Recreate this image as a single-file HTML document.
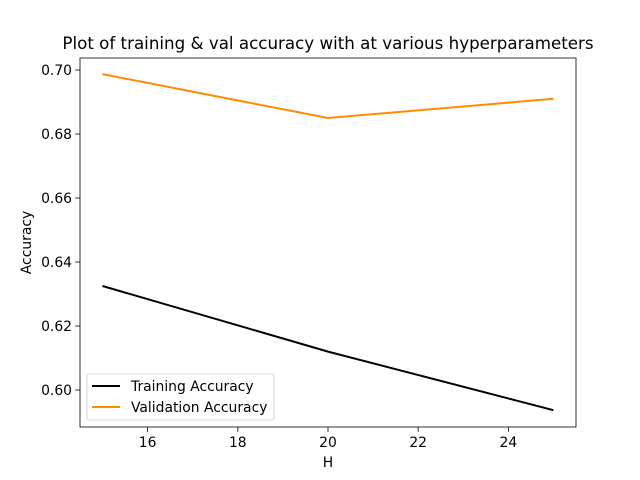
<!DOCTYPE html>
<html><head><meta charset="utf-8"><style>body{margin:0;background:#fff}svg{display:block}text{font-family:"DejaVu Sans","Liberation Sans",sans-serif;fill:#000}</style></head>
<body>
<svg id="chart" width="640" height="480">
<rect width="640" height="480" fill="#fff"/>
<text x="328" y="49" font-size="16.7" text-anchor="middle">Plot of training &amp; val accuracy with at various hyperparameters</text>
<g id="ticks"></g>
<g id="lines"></g>
<rect x="80" y="58" width="496" height="369" fill="none" stroke="#000" stroke-width="0.8"/>
<text x="328" y="467" font-size="13.9" text-anchor="middle">H</text>
<text transform="translate(31,242.5) rotate(-90)" font-size="13.9" text-anchor="middle">Accuracy</text>
<g>
<rect x="87" y="374" width="187" height="46" rx="2" fill="#fff" fill-opacity="0.8" stroke="#ccc" stroke-width="0.8"/>
<line x1="92" y1="386" x2="120" y2="386" stroke="#000" stroke-width="2"/>
<text x="131" y="391" font-size="13.9">Training Accuracy</text>
<line x1="92" y1="407" x2="120" y2="407" stroke="#ff8c00" stroke-width="2"/>
<text x="131" y="412" font-size="13.9">Validation Accuracy</text>
</g>
</svg>
<script>
const hValues = [15, 20, 25];
const trainAcc = [0.6325, 0.612, 0.5937];
const valAcc = [0.6987, 0.685, 0.691];
const xTicks = [16, 18, 20, 22, 24];
const yTicks = [0.60, 0.62, 0.64, 0.66, 0.68, 0.70];
const X = v => 80 + (v - 14.5) / 11 * 496;
const Y = v => 390 - (v - 0.60) * 3200;
const NS = 'http://www.w3.org/2000/svg';
const tg = document.getElementById('ticks'), lg = document.getElementById('lines');
function mk(tag, attrs, parent){const e=document.createElementNS(NS,tag);for(const k in attrs)e.setAttribute(k,attrs[k]);parent.appendChild(e);return e;}
xTicks.forEach(t=>{
  const l=mk('line',{x1:X(t),x2:X(t),y1:427,y2:431.9,stroke:'#000','stroke-width':0.8},tg);
  
  
  const s=mk('text',{x:X(t),y:447,'font-size':13.9,'text-anchor':'middle'},tg);
  s.textContent=t;
  
  
});
yTicks.forEach(t=>{
  const l=mk('line',{x1:75.1,x2:80,y1:Y(t),y2:Y(t),stroke:'#000','stroke-width':0.8},tg);
  
  
  const s=mk('text',{x:72,y:Y(t)+5,'font-size':13.9,'text-anchor':'end'},tg);
  s.textContent=t.toFixed(2);
  
  
});
function line(vals,color,name){
  const p=mk('polyline',{points:hValues.map((h,i)=>X(h)+','+Y(vals[i])).join(' '),fill:'none',stroke:color,'stroke-width':2},lg);
  
  
}
line(trainAcc,'#000','training-accuracy-line');
line(valAcc,'#ff8c00','validation-accuracy-line');
</script>
</body></html>
